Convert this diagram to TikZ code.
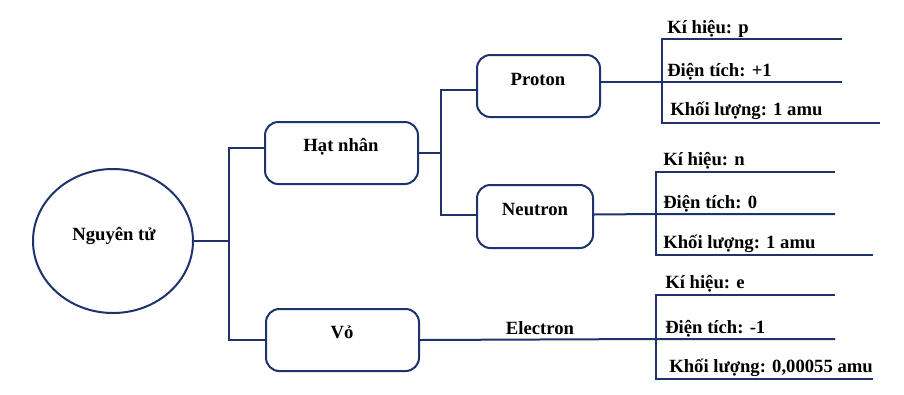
\documentclass[tikz,border=0pt]{standalone}
\usepackage{fontspec}
\setmainfont{Liberation Serif}
\usetikzlibrary{shapes.geometric}
\definecolor{navy}{RGB}{30,50,110}
\begin{document}
\begin{tikzpicture}[x=0.75pt,y=-0.75pt,
  line/.style={draw=navy,line width=1.5pt},
  boxnode/.style={draw=navy,line width=1.5pt,rounded corners=10pt,inner sep=0pt},
  lbl/.style={font=\fontsize{14}{16}\selectfont\bfseries,inner sep=0pt,anchor=base},
  attr/.style={font=\fontsize{14}{16}\selectfont\bfseries,inner sep=0pt,anchor=base west}]
\useasboundingbox (0,0) rectangle (904,394);
% main ellipse
\node[ellipse,draw=navy,line width=1.5pt,minimum width=120pt,minimum height=108pt,inner sep=0pt] (atom) at (113,241) {};
\node[lbl] (atomt) at (114,240) {Nguyên tử};
% boxes
\node[boxnode,minimum width=114.75pt,minimum height=46.5pt] (hat) at (341.5,153) {};
\node[lbl] (hatt) at (341,151) {Hạt nhân};
\node[boxnode,minimum width=114.75pt,minimum height=46.5pt] (vo) at (342.5,340) {};
\node[lbl] (vot) at (342,338) {Vỏ};
\node[boxnode,minimum width=92.25pt,minimum height=46.5pt] (pro) at (538.5,86) {};
\node[lbl] (prot) at (538,85) {Proton};
\node[boxnode,minimum width=87pt,minimum height=47.25pt] (neu) at (535,216.5) {};
\node[lbl] (neut) at (535,215) {Neutron};
% junctions
\coordinate (j1) at (229,241);
\coordinate (j2) at (441,153);
\coordinate (jp) at (662,82);
\coordinate (jn) at (656,214);
\coordinate (je) at (656,339);
% level 1
\draw[line] (atom.east) -- (j1);
\draw[line] ([yshift=3.75pt]hat.west) -| (j1) |- (vo.west);
% level 2
\draw[line] (hat.east) -- (j2);
\draw[line] ([yshift=-3pt]pro.west) -| (j2) |- ([yshift=1pt]neu.west);
% proton attributes
\coordinate (p1) at (842,39);
\coordinate (p2) at (842,82);
\coordinate (p3) at (880,123);
\draw[line] ([yshift=3pt]pro.east) -- (jp) -- (p2);
\draw[line] (p1) -| (jp) |- (p3);
\node[attr] (pa) at (667,33) {Kí hiệu: p};
\node[attr] (pb) at (667,76) {Điện tích: +1};
\node[attr] (pc) at (670,115) {Khối lượng: 1 amu};
% neutron attributes
\coordinate (n1) at (835,172);
\coordinate (n2) at (835,214);
\coordinate (n3) at (873,255);
\draw[line] ([yshift=1.5pt]neu.east) -- (jn) -- (n2);
\draw[line] (n1) -| (jn) |- (n3);
\node[attr] (na) at (663,165) {Kí hiệu: n};
\node[attr] (nb) at (663,208) {Điện tích: 0};
\node[attr] (nc) at (663,248) {Khối lượng: 1 amu};
% electron attributes
\coordinate (e1) at (835,295);
\coordinate (e2) at (835,339);
\coordinate (e3) at (873,379);
\draw[line] (vo.east) -- (je) -- (e2);
\draw[line] (e1) -| (je) |- (e3);
\node[lbl] (el) at (540,334) {Electron};
\node[attr] (ea) at (665,288) {Kí hiệu: e};
\node[attr] (eb) at (665,333) {Điện tích: -1};
\node[attr] (ec) at (669,372) {Khối lượng: 0,00055 amu};
\end{tikzpicture}
\end{document}
